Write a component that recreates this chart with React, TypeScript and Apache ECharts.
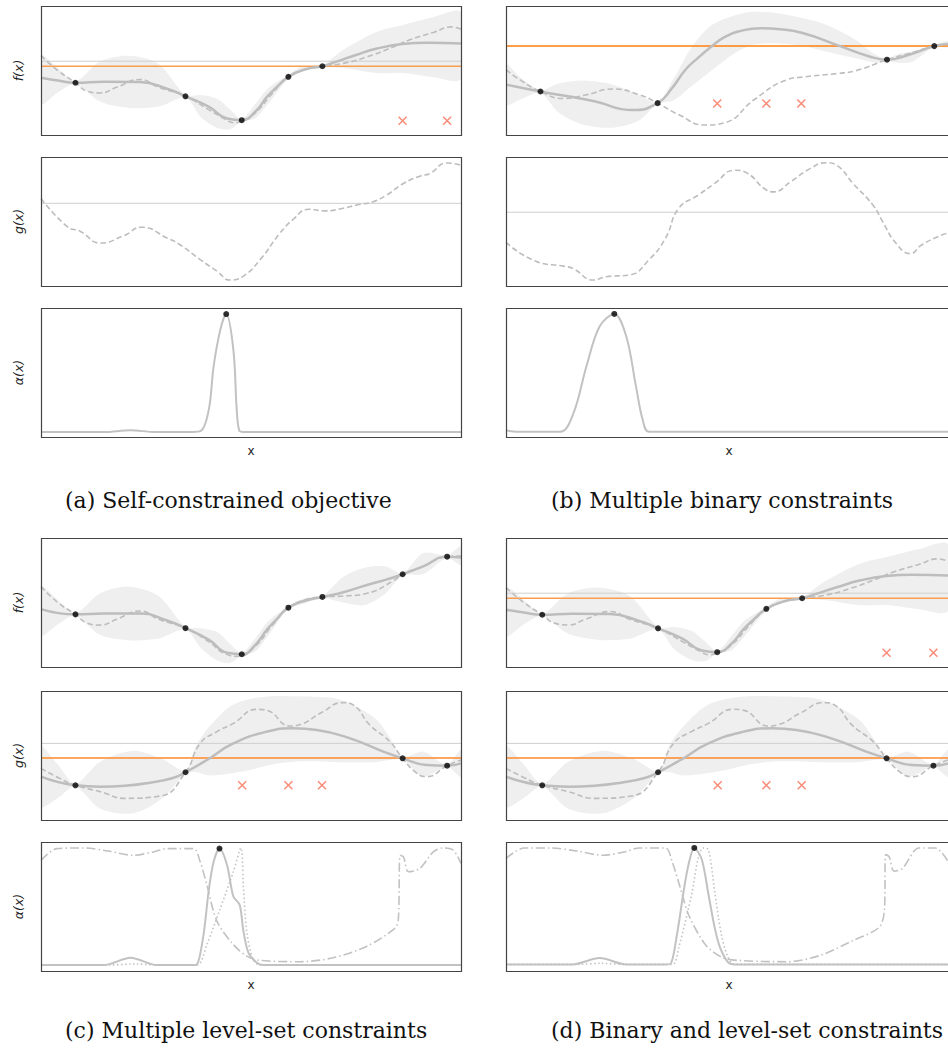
import React, { useEffect, useRef } from "react";
import * as echarts from "echarts";

// ---------- (a) & (d) objective row f(x) ----------
const objMeanX = [0, 4, 8.2, 15, 23.6, 30, 34.4, 40, 44.3, 47.8, 51, 53.8, 56.1, 58.9, 63, 67, 70, 75, 80, 86, 92, 100];
const objMean = [44.4, 42.2, 40.5, 41.3, 41, 35.9, 30, 21.8, 12.8, 11.5, 18, 29.5, 37, 45.1, 51, 53.3, 56.5, 62, 67, 70.5, 71.5, 71];
const objBandX = [0, 4, 8.2, 14, 21, 28, 34.4, 38, 42, 45, 47.8, 51, 54, 58.9, 62, 67, 72, 80, 86, 93, 100];
const objUp = [61.5, 52, 41.5, 57, 61.5, 55, 31, 31, 28, 20, 12.5, 24, 36, 46.5, 53, 54.3, 66, 80, 85, 91, 95];
const objLo = [24, 33, 39.5, 26, 21, 22, 29, 14, 5.5, 4.5, 10.5, 13, 24, 43.7, 49, 52.3, 52, 48, 48, 45, 43.6];
const objTrueX = [0, 4, 8.2, 11, 14.1, 18, 23.6, 28, 34.4, 40, 44, 46, 47.8, 51, 55, 58.9, 63, 67, 72, 78, 84, 88, 93.4, 97.8, 100];
const objTrue = [61.5, 50, 40.5, 34, 32.6, 37, 43, 37, 30, 19.5, 12, 9.5, 11, 17, 32, 45, 51, 53.5, 55.5, 61, 68.5, 74, 79.5, 83.8, 82];
const objObsX = [8.2, 34.4, 47.8, 58.9, 67];
const objObsY = [40.5, 30, 11.5, 45.1, 53.3];
const objBadX = [86.1, 96.7];
const objBadY = [11, 11];
const objRef = 57.2;
const objBest = 53.3;

// ---------- (a) constraint row g(x) ----------
const aGX = [0, 6.2, 9.4, 14.1, 19.7, 24, 30, 33.1, 37.9, 41.9, 45, 48.2, 52.2, 56.9, 60.1, 63.7, 67.6, 72, 75.2, 79.1, 82.3, 86.3, 90.2, 92.6, 96.6, 100];
const aGY = [67.9, 46.2, 42.3, 33.3, 39, 45.6, 37.2, 32, 20.5, 11.5, 4.6, 7.7, 20.5, 41, 51.8, 59.5, 58.2, 60.3, 62.8, 65.4, 70.5, 79.5, 85.1, 87.2, 95.4, 93.6];
const aGRef = 64.1;

// ---------- (a) acquisition ----------
const aAlphaX = [0, 15, 21.3, 27, 36, 38.2, 40, 41.1, 42.7, 44.1, 45.8, 46.6, 47.2, 48.2, 100];
const aAlpha = [3.9, 3.9, 5.2, 3.9, 3.9, 5, 22, 54.8, 83.2, 95.3, 67.7, 21.2, 5, 3.9, 3.9];
const aPeakX = [44.1];
const aPeakY = [95.3];

// ---------- (b) objective row ----------
const bMeanX = [0, 7.8, 14, 20, 28.6, 34.3, 37.5, 40.6, 43.5, 46.5, 49.5, 52.5, 57.7, 62, 67.3, 74.8, 82.2, 86.2, 91, 96.9, 100];
const bMean = [39.1, 33.7, 30, 26.2, 19.3, 24.7, 36, 50.6, 60, 68.6, 76, 80.2, 82.8, 82, 78.9, 69.9, 60.9, 58.4, 62, 68.9, 70.5];
const bBandX = [0, 3.5, 7.8, 12, 17.5, 24.2, 30, 34.3, 38, 42, 46.5, 52, 56, 62, 67.3, 72, 78.5, 83.7, 86.2, 89, 92, 96.9, 100];
const bUp = [54.5, 44, 35, 40, 42.2, 39, 31, 25.5, 44, 68, 85, 93, 95.6, 94, 90.5, 86, 75, 62, 59.5, 63, 65, 69.5, 73];
const bLo = [23.7, 28, 32.5, 17, 8, 5.7, 11, 24, 27, 38, 50, 64, 70, 71, 69, 65, 60, 56, 57.3, 55.8, 57, 68.3, 68];
const bTrueX = [0, 3.5, 7.8, 13, 18, 24.2, 30, 34.3, 39, 45, 49.5, 56.2, 63.6, 67.3, 74.8, 79.2, 86.2, 91, 96.9, 100];
const bTrue = [50.6, 42, 33.7, 28.3, 31, 35.7, 31.4, 24.7, 15.9, 7.7, 9.5, 27.5, 42.9, 45, 47.6, 49.9, 58.4, 63, 68.9, 70.5];
const bObsX = [7.8, 34.3, 86.2, 96.9];
const bObsY = [33.7, 24.7, 58.4, 68.9];
const bBadX = [47.8, 58.9, 66.8];
const bBadY = [24.4, 24.4, 24.4];
const bBest = 68.9;

// ---------- (b) constraint row ----------
const bGX = [0, 7.1, 13, 15.3, 19.7, 22.7, 27.9, 32.4, 36.1, 39.1, 43.5, 47.2, 51.7, 54.7, 58.4, 60.6, 64.4, 68.8, 72.5, 74.8, 78.5, 83, 85.2, 88.2, 91.5, 94.1, 98.7, 100];
const bGY = [33.8, 18.7, 15.4, 13.3, 4.6, 7.2, 8.5, 20.5, 37.2, 60.3, 70.5, 79.5, 89.7, 87.2, 75.6, 73, 80.8, 91, 95.6, 93.6, 79.5, 62.8, 50, 33.3, 25.1, 32, 39.7, 41];
const bGRef = 57.2;

// ---------- (b) acquisition ----------
const bAlphaX = [0, 2.5, 12.3, 15.3, 18.2, 21.2, 24.5, 27.2, 29.4, 30.9, 32.4, 100];
const bAlpha = [5.2, 4.1, 4.1, 18.8, 54.9, 85.8, 95.4, 78.1, 39.4, 13.7, 4.1, 4.1];
const bPeakX = [24.5];
const bPeakY = [95.4];

// ---------- (c) objective row ----------
const cMeanX = [0, 8.2, 15, 23.6, 30, 34.4, 40, 44.3, 47.8, 51, 53.8, 56.1, 58.9, 63, 67, 72, 77.6, 82, 86.1, 91, 96.7, 100];
const cMean = [44.9, 40.8, 41.5, 41.5, 36, 30.1, 21, 11, 9.9, 17, 29, 37, 46, 51.5, 54.3, 58, 63.6, 67.5, 71.9, 78, 85.5, 84.9];
const cBandX = [0, 4, 8.2, 14, 21, 28, 34.4, 38, 42, 45, 47.8, 51, 54, 58.9, 63, 67, 72, 77, 82, 86.1, 91, 96.7, 100];
const cUp = [62.3, 52, 41.8, 57, 62.3, 55, 31.1, 30, 27, 18, 11, 22, 35, 47, 53.5, 55.3, 70, 77, 78, 72.9, 88.3, 86.5, 93.5];
const cLo = [24.7, 33, 39.8, 25, 20.8, 22, 29.1, 15, 5, 3.1, 8.9, 12, 24, 45, 49.5, 53.3, 50, 48, 57, 70.9, 72, 84.5, 79.2];
const cTrueX = [0, 4, 8.2, 11, 14.1, 18, 23.6, 28, 34.4, 40, 44, 47, 51, 55, 58.9, 63.3, 67, 72, 77.6, 84, 86.1, 91, 96.7, 100];
const cTrue = [62.3, 50, 40.8, 34, 32.5, 37, 43.4, 37, 30.1, 19.5, 10, 8.3, 16, 32, 46, 52.5, 54.3, 55, 57.1, 67, 71.9, 77.9, 85.5, 86];
const cObsX = [8.2, 34.4, 47.8, 58.9, 67, 86.1, 96.7];
const cObsY = [40.8, 30.1, 9.9, 46, 54.3, 71.9, 85.5];

// ---------- (c) & (d) level-set constraint row ----------
const lvMeanX = [0, 8.2, 14.1, 20, 26, 31.6, 34.4, 39.5, 45.8, 53.8, 60.1, 65.7, 73.6, 81.5, 86.1, 91.8, 96.7, 100];
const lvMean = [33.6, 26.9, 25.8, 26.5, 28.9, 32.8, 37, 46.5, 59.4, 68.5, 71.1, 69.8, 63.3, 53, 47.8, 42.6, 42.1, 43.9];
const lvBandX = [0, 4, 8.2, 14, 22, 29, 34.4, 37, 40, 45, 50, 55, 60, 65, 70, 75, 80, 83, 86.1, 91, 96.7, 100];
const lvUp = [56.8, 43, 28, 45, 53.7, 47, 38, 58, 72, 88, 94, 96, 96, 95.6, 94.3, 88, 77.5, 64, 48.8, 53, 43, 54.3];
const lvLo = [10.3, 17, 25.8, 9, 5.2, 17, 36, 37, 34.5, 36, 39, 43, 45.2, 45.5, 45, 44.5, 45, 46.5, 46.8, 33.6, 41, 33.6];
const lvTrueX = [0, 4, 8.2, 14.1, 20, 28.4, 34.4, 37.9, 41.9, 45.8, 51.4, 53.8, 59.3, 61.7, 66.5, 72, 74.4, 78.3, 83.1, 86.1, 89.5, 91.8, 96.7, 100];
const lvTrue = [40, 33, 26.9, 22, 16.8, 18.6, 37, 59.4, 68.5, 74.9, 85.8, 85, 72.9, 74, 82.7, 91, 89.1, 73.6, 60.7, 47.8, 36.2, 33.6, 42, 46.5];
const lvObsX = [8.2, 34.4, 86.1, 96.7];
const lvObsY = [26.9, 37, 47.8, 42.1];
const lvBadX = [47.9, 58.9, 66.9];
const lvBadY = [26.9, 26.9, 26.9];
const lvRef = 59.4;
const lvBest = 48.1;

// ---------- (c) acquisition ----------
const cSolidX = [0, 15, 21.3, 27.6, 36, 37.1, 38.7, 39.9, 41.1, 42.5, 44.3, 45.8, 47.3, 48.2, 49.4, 51.4, 53, 100];
const cSolid = [4.6, 4.6, 10.3, 4.6, 4.6, 5, 28.2, 61.5, 84.6, 94.9, 82, 57.7, 51.3, 30.8, 14.1, 6.4, 4.6, 4.6];
const cDotX = [0, 16, 22, 28, 37.1, 39.5, 42.7, 45.8, 47.6, 48.2, 49, 50.5, 52.2, 100];
const cDot = [4.6, 4.6, 5.5, 4.6, 4.6, 20.5, 48.7, 76.9, 95.4, 65, 30, 9, 4.6, 4.6];
const cDDX = [0, 3.8, 10.2, 16, 22, 27, 30, 36.3, 37.9, 39.5, 41.9, 45.8, 49, 52.2, 61.7, 69.6, 77.6, 84.3, 85.1, 85.5, 86.3, 87.5, 90.2, 93.4, 95.8, 98.2, 100];
const cDD = [85.9, 94.9, 95.4, 93, 89.7, 92.5, 94.9, 94.9, 84.6, 66.7, 38.5, 20.5, 11.5, 8.2, 7.2, 10.3, 19.2, 33.3, 41, 89.7, 88.5, 76.9, 79.5, 92.3, 95.4, 93.6, 83.3];
const cPeakX = [42.5];
const cPeakY = [94.9];

// ---------- (d) acquisition ----------
const dSolidX = [0, 15, 21.2, 27.2, 36, 37.2, 38.7, 40.2, 41.3, 42.6, 44.3, 45.8, 47.2, 48.4, 50.2, 51.7, 100];
const dSolid = [5.1, 5.1, 10, 5.1, 5.1, 5.5, 28.7, 62, 82.6, 95.4, 86.4, 59.5, 33.8, 18.5, 6.9, 5.1, 5.1];
const dDotX = [0, 16, 21.5, 27, 37.6, 39.1, 42, 43.5, 44.6, 45.8, 47.2, 48.7, 50.2, 51.7, 100];
const dDot = [5.1, 5.1, 6, 5.1, 5.1, 18.5, 59.5, 87.7, 95.4, 94.1, 62, 28.7, 10.8, 5.1, 5.1];
const dDDX = [0, 4.1, 10, 16, 21.9, 27, 30.1, 36.1, 37.6, 39.8, 41.3, 45, 48.7, 52.5, 63.6, 71, 78.5, 84.4, 85.6, 85.9, 86.7, 87.8, 89.7, 93.4, 97.1, 100];
const dDD = [87.2, 95.4, 95.4, 93, 89.7, 92.5, 95.4, 95.4, 84.6, 60.3, 43.6, 21, 10.8, 8.2, 7.2, 12, 23.6, 33.8, 46.7, 90.3, 88.5, 77.4, 79.5, 95.4, 95.4, 85];
const dPeakX = [42.6];
const dPeakY = [95.4];

// ---------- texts ----------
const rowLabels = ["f(x)", "g(x)", "α(x)"];
const xLabel = "x";
const captions = [
  "(a) Self-constrained objective",
  "(b) Multiple binary constraints",
  "(c) Multiple level-set constraints",
  "(d) Binary and level-set constraints",
];

// ---------- layout ----------
const COLS = [
  { left: 41, width: 420 },
  { left: 506, width: 448 },
];
const ROW_TOPS = [6, 157, 308, 538, 691, 842];
const ROW_H = 129;

const GRAY = "#bdbdbd";
const BAND = "#efefef";
const CROSS = "#f96e55";

const zip = (xs: number[], ys: number[]) => xs.map((x, i) => [x, ys[i]]);

function axisRef(gi: number) {
  return { xAxisIndex: gi, yAxisIndex: gi, silent: true };
}

function band(gi: number, xs: number[], lo: number[], up: number[]) {
  return {
    type: "custom",
    ...axisRef(gi),
    clip: true,
    data: [[xs[0], lo[0]]],
    renderItem: (_p: any, api: any) => {
      const pts: number[][] = [];
      for (let i = 0; i < xs.length; i++) pts.push(api.coord([xs[i], up[i]]));
      for (let i = xs.length - 1; i >= 0; i--) pts.push(api.coord([xs[i], lo[i]]));
      return {
        type: "polygon",
        shape: { points: pts, smooth: 0.3 },
        style: { fill: BAND, stroke: null },
      };
    },
  };
}

function line(gi: number, xs: number[], ys: number[], style: any, smooth = 0.5) {
  return {
    type: "line",
    ...axisRef(gi),
    data: zip(xs, ys),
    symbol: "none",
    smooth,
    clip: true,
    lineStyle: style,
  };
}

function hline(gi: number, v: number, color: string, width: number) {
  return {
    type: "line",
    ...axisRef(gi),
    data: [[0, v], [100, v]],
    symbol: "none",
    lineStyle: { color, width },
  };
}

function dots(gi: number, xs: number[], ys: number[]) {
  return {
    type: "scatter",
    ...axisRef(gi),
    data: zip(xs, ys),
    symbol: "circle",
    symbolSize: 6,
    itemStyle: { color: "#000" },
    z: 5,
  };
}

function crosses(gi: number, xs: number[], ys: number[]) {
  return {
    type: "scatter",
    ...axisRef(gi),
    data: zip(xs, ys),
    symbol: "path://M0,0L10,10M10,0L0,10",
    symbolSize: 8,
    itemStyle: { color: "transparent", borderColor: CROSS, borderWidth: 1.5 },
    z: 5,
  };
}

const meanStyle = { color: GRAY, width: 2.5 };
const trueStyle = { color: GRAY, width: 1.6, type: [5.5, 3] };
const alphaSolid = { color: "#c2c2c2", width: 2 };
const alphaDot = { color: "#c2c2c2", width: 1.6, type: [1.5, 2.5] };
const alphaDashDot = { color: "#c2c2c2", width: 1.6, type: [9, 3, 1.5, 3] };

function buildOption() {
  const grid: any[] = [];
  const xAxis: any[] = [];
  const yAxis: any[] = [];
  const graphic: any[] = [];
  for (let p = 0; p < 4; p++) {
    for (let r = 0; r < 3; r++) {
      const gi = p * 3 + r;
      const col = COLS[p % 2];
      const top = ROW_TOPS[Math.floor(p / 2) * 3 + r];
      grid.push({ left: col.left, top, width: col.width, height: ROW_H, show: false });
      xAxis.push({ gridIndex: gi, type: "value", min: 0, max: 100, show: false });
      yAxis.push({ gridIndex: gi, type: "value", min: 0, max: 100, show: false });
      graphic.push({
        type: "rect",
        z: 100,
        silent: true,
        shape: { x: col.left + 0.5, y: top + 0.5, width: col.width, height: ROW_H },
        style: { fill: "none", stroke: "#444", lineWidth: 1.2 },
      });
      if (p % 2 === 0) {
        graphic.push({
          type: "text",
          z: 100,
          x: 18,
          y: top + ROW_H / 2,
          rotation: Math.PI / 2,
          style: {
            text: rowLabels[r],
            fill: "#222",
            font: 'italic 12.5px "DejaVu Sans"',
            align: "center",
            verticalAlign: "middle",
          },
        });
      }
      if (r === 2) {
        graphic.push({
          type: "text",
          z: 100,
          x: col.left + (p % 2 === 0 ? col.width / 2 : 223),
          y: top + ROW_H + 14,
          style: { text: xLabel, fill: "#222", font: '12px "DejaVu Sans"', align: "center", verticalAlign: "middle" },
        });
      }
    }
    const capY = p < 2 ? 500 : 1030;
    graphic.push({
      type: "text",
      z: 100,
      x: p % 2 === 0 ? 65 : 551,
      y: capY,
      style: { text: captions[p], fill: "#111", font: '22px "DejaVu Serif"', align: "left", verticalAlign: "middle" },
    });
  }

  const series: any[] = [
    // (a) f
    band(0, objBandX, objLo, objUp),
    hline(0, objRef, "#cfcfcf", 1),
    hline(0, objBest, "#f99d4f", 1.6),
    line(0, objTrueX, objTrue, trueStyle),
    line(0, objMeanX, objMean, meanStyle),
    dots(0, objObsX, objObsY),
    crosses(0, objBadX, objBadY),
    // (a) g
    hline(1, aGRef, "#cfcfcf", 1),
    line(1, aGX, aGY, trueStyle),
    // (a) alpha
    line(2, aAlphaX, aAlpha, alphaSolid, 0.35),
    dots(2, aPeakX, aPeakY),
    // (b) f
    band(3, bBandX, bLo, bUp),
    hline(3, bBest, "#ff7f0e", 1.5),
    line(3, bTrueX, bTrue, trueStyle),
    line(3, bMeanX, bMean, meanStyle),
    dots(3, bObsX, bObsY),
    crosses(3, bBadX, bBadY),
    // (b) g
    hline(4, bGRef, "#cfcfcf", 1),
    line(4, bGX, bGY, trueStyle),
    // (b) alpha
    line(5, bAlphaX, bAlpha, alphaSolid, 0.35),
    dots(5, bPeakX, bPeakY),
    // (c) f
    band(6, cBandX, cLo, cUp),
    line(6, cTrueX, cTrue, trueStyle),
    line(6, cMeanX, cMean, meanStyle),
    dots(6, cObsX, cObsY),
    // (c) g
    band(7, lvBandX, lvLo, lvUp),
    hline(7, lvRef, "#cfcfcf", 1),
    hline(7, lvBest, "#ff8a2a", 1.6),
    line(7, lvTrueX, lvTrue, trueStyle),
    line(7, lvMeanX, lvMean, meanStyle),
    dots(7, lvObsX, lvObsY),
    crosses(7, lvBadX, lvBadY),
    // (c) alpha
    line(8, cDDX, cDD, alphaDashDot, 0.3),
    line(8, cDotX, cDot, alphaDot, 0.3),
    line(8, cSolidX, cSolid, alphaSolid, 0.3),
    dots(8, cPeakX, cPeakY),
    // (d) f
    band(9, objBandX, objLo, objUp),
    hline(9, objRef, "#cfcfcf", 1),
    hline(9, objBest, "#f99d4f", 1.6),
    line(9, objTrueX, objTrue, trueStyle),
    line(9, objMeanX, objMean, meanStyle),
    dots(9, objObsX, objObsY),
    crosses(9, objBadX, objBadY),
    // (d) g
    band(10, lvBandX, lvLo, lvUp),
    hline(10, lvRef, "#cfcfcf", 1),
    hline(10, lvBest, "#ff8a2a", 1.6),
    line(10, lvTrueX, lvTrue, trueStyle),
    line(10, lvMeanX, lvMean, meanStyle),
    dots(10, lvObsX, lvObsY),
    crosses(10, lvBadX, lvBadY),
    // (d) alpha
    line(11, dDDX, dDD, alphaDashDot, 0.3),
    line(11, dDotX, dDot, alphaDot, 0.3),
    line(11, dSolidX, dSolid, alphaSolid, 0.3),
    dots(11, dPeakX, dPeakY),
  ];

  return {
    animation: false,
    backgroundColor: "#fff",
    tooltip: { show: false },
    grid,
    xAxis,
    yAxis,
    series,
    graphic: { elements: graphic },
  };
}

export default function App() {
  const ref = useRef<HTMLDivElement>(null);
  useEffect(() => {
    const chart = echarts.init(ref.current!, null, { renderer: "svg" });
    chart.setOption(buildOption() as any);
    return () => chart.dispose();
  }, []);
  return (
    <div
      ref={ref}
      style={{ position: "absolute", left: 0, top: 0, width: 948, height: 1055, background: "#fff", overflow: "hidden" }}
    />
  );
}
